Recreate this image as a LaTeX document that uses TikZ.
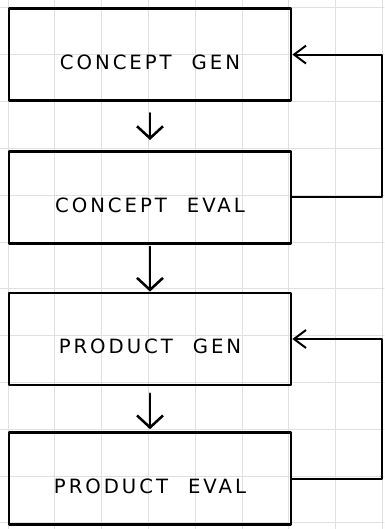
\documentclass[tikz,border=0pt]{standalone}
\usepackage{fontspec}
\newfontfamily\hand[LetterSpace=15]{DejaVu Sans}
\usetikzlibrary{calc,arrows.meta}

\tikzset{
  box/.style={draw,line width=2pt,minimum width=7.05cm,minimum height=2.3cm,
    text height=0.75cm,text depth=0pt,
    font=\hand\fontsize{14}{16}\selectfont},
  down/.style={line width=1.8pt,-{Straight Barb[length=3mm,width=6.5mm]}},
  fb/.style={line width=1.4pt,-{Straight Barb[length=3mm,width=4.5mm]}},
}

\begin{document}
\begin{tikzpicture}[line cap=round,line join=round]
  \useasboundingbox (0,0) rectangle (9.6,13.225);
  % grid paper
  \foreach \i in {0,...,8} {
    \draw[black!12,line width=0.7pt] (0.2+\i*1.17,0) -- (0.2+\i*1.17,13.225);
  }
  \foreach \j in {0,...,11} {
    \draw[black!12,line width=0.7pt] (0,13.025-\j*1.17) -- (9.6,13.025-\j*1.17);
  }
  % stages
  \node[box] (cgen) at (3.75,11.86) {CONCEPT\hspace{0.5cm}GEN};
  \node[box] (ceval) at (3.75,8.29) {CONCEPT\hspace{0.5cm}EVAL};
  \node[box] (pgen) at (3.75,4.75) {PRODUCT\hspace{0.5cm}GEN};
  \node[box] (peval) at (3.75,1.26) {PRODUCT\hspace{0.5cm}EVAL};
  % down arrows
  \draw[down,shorten <=0.28cm,shorten >=0.25cm] (cgen) -- (ceval);
  \draw[down,shorten <=0.05cm] (ceval) -- (pgen);
  \draw[down,shorten <=0.18cm,shorten >=0.05cm] (pgen) -- (peval);
  % feedback loops
  \draw[fb] (ceval.east) -- ++(2.25,0) |- (cgen.east);
  \draw[fb] (peval.east) -- ++(2.25,0) |- (pgen.east);
\end{tikzpicture}
\end{document}
